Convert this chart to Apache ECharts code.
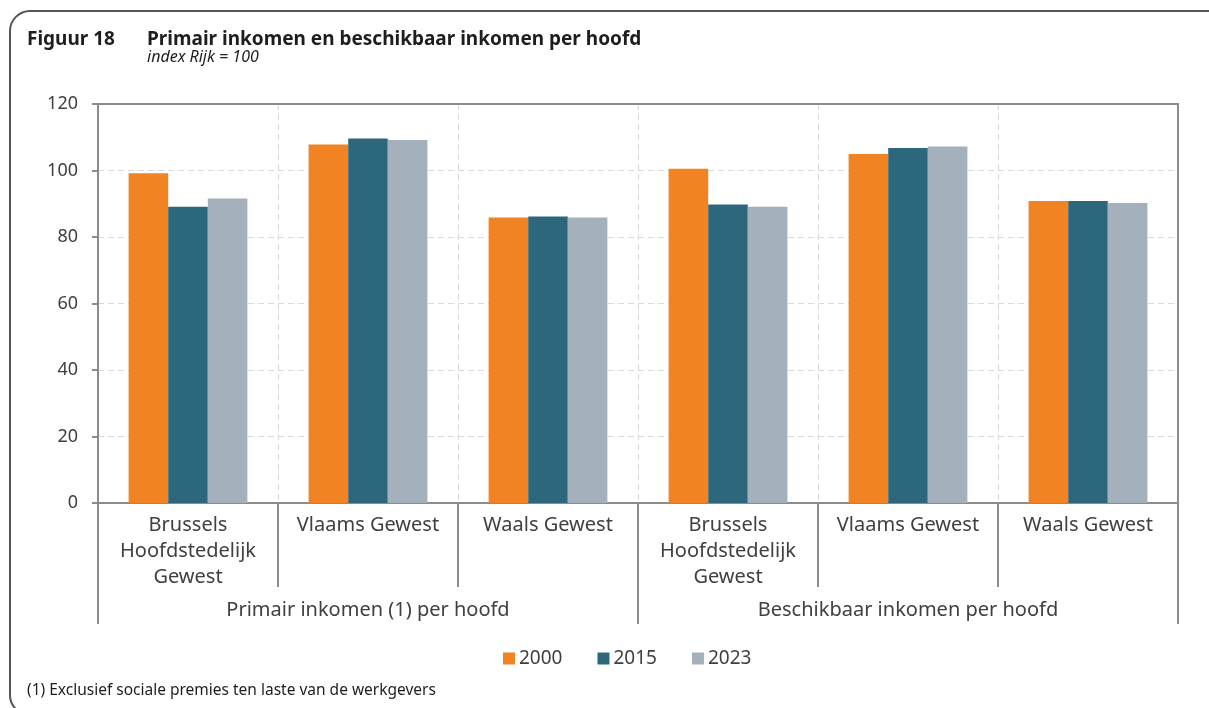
<!DOCTYPE html>
<html>
<head>
<meta charset="utf-8">
<script src="https://cdn.jsdelivr.net/npm/echarts@6/dist/echarts.min.js"></script>
<style>
html, body { margin: 0; padding: 0; background: #fff; }
#chart { width: 1209px; height: 708px; }
</style>
</head>
<body>
<div id="chart"></div>
<script>
// categories
var regions = ['Brussels\nHoofdstedelijk\nGewest', 'Vlaams Gewest', 'Waals Gewest',
               'Brussels\nHoofdstedelijk\nGewest', 'Vlaams Gewest', 'Waals Gewest'];
var groups = ['Primair inkomen (1) per hoofd', 'Beschikbaar inkomen per hoofd'];
var years = ['2000', '2015', '2023'];
// index Rijk = 100
var v2000 = [99.2, 107.8, 85.9, 100.5, 105.0, 90.8];
var v2015 = [89.1, 109.6, 86.2, 89.8, 106.8, 90.8];
var v2023 = [91.6, 109.2, 85.9, 89.1, 107.2, 90.2];

var font = 'Noto Sans';
var textColor = '#404040';
var axisColor = '#8c8c8c';

var chart = echarts.init(document.getElementById('chart'));

var barSeries = [v2000, v2015, v2023].map(function (d, i) {
    return {
        name: years[i],
        type: 'bar',
        data: d,
        barGap: 0,
        barCategoryGap: '34%',
        xAxisIndex: 0,
        yAxisIndex: 0
    };
});

var option = {
    color: ['#F28322', '#2D677C', '#A5B0BD'],
    animation: false,
    textStyle: { fontFamily: font },
    title: [
        {
            text: 'Figuur 18',
            left: 27, top: 30, padding: 0,
            textStyle: { fontFamily: font, fontSize: 19, fontWeight: 'bold', color: '#1e1e1e' }
        },
        {
            text: 'Primair inkomen en beschikbaar inkomen per hoofd',
            left: 147, top: 30, padding: 0,
            textStyle: { fontFamily: font, fontSize: 19, fontWeight: 'bold', color: '#1e1e1e' }
        },
        {
            text: 'index Rijk = 100',
            left: 147, top: 49, padding: 0,
            textStyle: { fontFamily: font, fontSize: 16, fontStyle: 'italic', fontWeight: 'normal', color: '#1e1e1e' }
        },
        {
            text: '(1) Exclusief sociale premies ten laste van de werkgevers',
            left: 27, top: 683, padding: 0,
            textStyle: { fontFamily: font, fontSize: 15.5, fontWeight: 'normal', color: '#1e1e1e' }
        }
    ],
    legend: {
        data: years,
        left: 503, top: 649, padding: 0,
        itemWidth: 12, itemHeight: 12,
        itemGap: 35,
        icon: 'rect',
        textStyle: { fontFamily: font, fontSize: 19, color: textColor, padding: [0, 0, 0, -1] }
    },
    grid: {
        left: 98, right: 31, top: 104, bottom: 205
    },
    xAxis: [
        {
            type: 'category',
            data: regions,
            position: 'bottom',
            axisLine: { lineStyle: { color: axisColor, width: 2 } },
            axisTick: { show: true, interval: 0, length: 84, lineStyle: { color: axisColor, width: 2 } },
            splitLine: { show: true, interval: 0, lineStyle: { color: '#d9d9d9', type: [6, 4], width: 1 } },
            axisLabel: {
                fontFamily: font, fontSize: 20, color: textColor,
                lineHeight: 26, margin: 9, interval: 0,
                verticalAlign: 'top'
            }
        },
        {
            // second level: the two income groups
            type: 'category',
            data: groups,
            position: 'bottom',
            offset: 84,
            axisLine: { show: false, onZero: false },
            axisTick: { show: true, interval: 0, length: 37, lineStyle: { color: axisColor, width: 2 } },
            splitLine: { show: false },
            axisLabel: { fontFamily: font, fontSize: 20, color: textColor, margin: 13, interval: 0, verticalAlign: 'top' }
        },
        {
            // top border of the plot
            type: 'category',
            data: regions,
            position: 'top',
            axisLine: { show: true, onZero: false, lineStyle: { color: axisColor, width: 2 } },
            axisTick: { show: false },
            axisLabel: { show: false },
            splitLine: { show: false }
        }
    ],
    yAxis: [
        {
            type: 'value',
            min: 0, max: 120, interval: 20,
            axisLine: { show: true, lineStyle: { color: axisColor, width: 2 } },
            axisTick: { show: true, length: 6, lineStyle: { color: axisColor, width: 2 } },
            splitLine: { lineStyle: { color: '#d9d9d9', type: [6, 4], width: 1 } },
            axisLabel: { fontFamily: font, fontSize: 18, color: textColor, margin: 20 }
        },
        {
            // right border of the plot
            type: 'value',
            position: 'right',
            min: 0, max: 120, interval: 20,
            axisLine: { show: true, onZero: false, lineStyle: { color: axisColor, width: 2 } },
            axisTick: { show: false },
            axisLabel: { show: false },
            splitLine: { show: false }
        }
    ],
    graphic: [
        {
            type: 'rect',
            shape: { x: 10, y: 11, width: 1230, height: 704, r: 20 },
            style: { fill: 'none', stroke: '#555', lineWidth: 2 },
            silent: true
        }
    ],
    series: barSeries
};

chart.setOption(option);
</script>
</body>
</html>
